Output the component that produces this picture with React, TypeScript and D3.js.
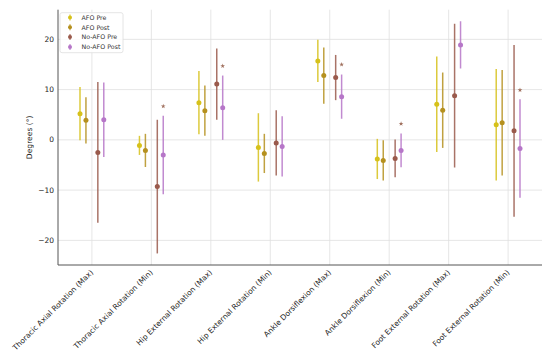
import React from "react";
import * as d3 from "d3";

const categories = [
  "Thoracic Axial Rotation (Max)",
  "Thoracic Axial Rotation (Min)",
  "Hip External Rotation (Max)",
  "Hip External Rotation (Min)",
  "Ankle Dorsiflexion (Max)",
  "Ankle Dorsiflexion (Min)",
  "Foot External Rotation (Max)",
  "Foot External Rotation (Min)",
];
const seriesNames = ["AFO Pre", "AFO Post", "No-AFO Pre", "No-AFO Post"];
const afoPreMean = [5.2, -1.1, 7.4, -1.5, 15.7, -3.8, 7.1, 3.0];
const afoPreSd = [5.3, 1.9, 6.3, 6.8, 4.2, 4.0, 9.5, 11.1];
const afoPostMean = [3.9, -2.1, 5.8, -2.7, 12.8, -4.1, 5.9, 3.4];
const afoPostSd = [4.6, 3.3, 5.0, 3.9, 5.6, 4.0, 7.5, 10.5];
const noAfoPreMean = [-2.5, -9.3, 11.1, -0.6, 12.4, -3.7, 8.8, 1.8];
const noAfoPreSd = [14.0, 13.3, 7.1, 6.5, 4.5, 3.75, 14.3, 17.1];
const noAfoPostMean = [4.0, -3.0, 6.4, -1.3, 8.6, -2.1, 18.9, -1.7];
const noAfoPostSd = [7.4, 7.8, 6.4, 6.0, 4.4, 3.35, 4.7, 9.8];
// significance markers (category index, value)
const starCats = [1, 2, 4, 5, 7];
const starValues = [6.7, 14.7, 15.0, 3.2, 9.9];
const yTicks = [-20, -10, 0, 10, 20];

const colors = ["#d6c11a", "#b5901e", "#9a5a4c", "#b676c8"];
const offsets = [-0.2, -0.1, 0.1, 0.2];

export default function App() {
  const W = 550, H = 358;
  const left = 58, right = 542, top = 9.7, bottom = 265;
  const means = [afoPreMean, afoPostMean, noAfoPreMean, noAfoPostMean];
  const sds = [afoPreSd, afoPostSd, noAfoPreSd, noAfoPostSd];
  const x = d3.scaleLinear().domain([-0.57, 7.57]).range([left, right]);
  const y = d3.scaleLinear().domain([-24.9, 25.9]).range([bottom, top]);
  const font = "DejaVu Sans, sans-serif";
  const fmt = (v: number) => (v < 0 ? "\u2212" + Math.abs(v) : String(v));
  const star = d3.symbol().type(d3.symbolStar).size(7)();

  return (
    <svg width={W} height={H} style={{ position: "absolute", left: 0, top: 0 }} fontFamily={font}>
      <rect width={W} height={H} fill="#fff" />
      {yTicks.map((t) => (
        <line key={"gy" + t} x1={left} x2={right} y1={y(t)} y2={y(t)} stroke="#e0e0e0" strokeWidth={0.8} />
      ))}
      {categories.map((c, i) => (
        <line key={"gx" + i} x1={x(i)} x2={x(i)} y1={top} y2={bottom} stroke="#e0e0e0" strokeWidth={0.8} />
      ))}
      {means.map((arr, s) =>
        arr.map((m, i) => {
          const cx = x(i + offsets[s]);
          return (
            <g key={"e" + s + "-" + i}>
              <line x1={cx} x2={cx} y1={y(m - sds[s][i])} y2={y(m + sds[s][i])} stroke={colors[s]} strokeWidth={1.5} strokeOpacity={0.85} />
              <circle cx={cx} cy={y(m)} r={2.5} fill={colors[s]} />
            </g>
          );
        })
      )}
      {starCats.map((ci, k) => (
        <path key={"s" + k} d={star as string} transform={`translate(${x(ci + offsets[3])},${y(starValues[k])})`} fill="#a0705e" />
      ))}
      <line x1={left} x2={left} y1={top} y2={bottom} stroke="#555" strokeWidth={1} />
      <line x1={left} x2={right} y1={bottom} y2={bottom} stroke="#555" strokeWidth={1} />
      {yTicks.map((t) => (
        <text key={"ty" + t} x={left - 4} y={y(t)} dy="0.35em" textAnchor="end" fontSize={7.5} fill="#222">
          {fmt(t)}
        </text>
      ))}
      {categories.map((c, i) => (
        <text key={"tx" + i} transform={`translate(${x(i)},${bottom + 6}) rotate(-45)`} textAnchor="end" fontSize={7.5} fill="#222" dy="0.35em">
          {c}
        </text>
      ))}
      <text transform={`translate(32,${(top + bottom) / 2}) rotate(-90)`} textAnchor="middle" fontSize={7.6} fill="#222">
        Degrees (°)
      </text>
      <g>
        <rect x={60} y={12.7} width={63} height={40} fill="#fff" fillOpacity={0.85} stroke="#ddd" strokeWidth={0.8} rx={2} />
        {seriesNames.map((n, s) => (
          <g key={"l" + s} transform={`translate(0,${17.5 + s * 9.8})`}>
            <line x1={70} x2={70} y1={-3} y2={3} stroke={colors[s]} strokeWidth={1.2} strokeOpacity={0.85} />
            <circle cx={70} cy={0} r={2} fill={colors[s]} />
            <text x={81.5} y={0} dy="0.35em" fontSize={6.3} fill="#333">
              {n}
            </text>
          </g>
        ))}
      </g>
    </svg>
  );
}
